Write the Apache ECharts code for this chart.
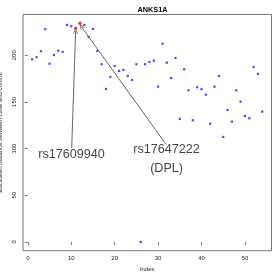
<!DOCTYPE html>
<html><head><meta charset="utf-8">
<script src="https://cdn.jsdelivr.net/npm/echarts@6/dist/echarts.min.js"></script>
<style>html,body{margin:0;padding:0;background:#fff}#c{width:273px;height:273px}</style>
</head><body><div id="c"></div>
<script>
var indices = [];
for (var i = 1; i <= 54; i++) indices.push(i);
var distances = [195.7,197.9,204.3,227.9,191.0,200.3,204.9,203.5,232.5,231.1,
  228.9,234.3,232.5,219.6,228.2,204.6,190.4,163.9,176.8,188.5,
  183.2,184.3,177.8,173.5,190.4,0,190.4,192.8,194.2,166.4,
  212.4,192.1,175.7,197.1,131.8,185.0,162.5,130.4,165.7,163.6,
  157.8,126.7,166.4,177.8,112.5,141.4,128.9,162.5,150.3,135.0,
  132.5,187.5,180.0,139.6];
var highlightIdx = [11, 12];
var xTicks = [0,10,20,30,40,50];
var yTicks = [0,50,100,150,200];
var labelTexts = ['rs17609940', 'rs17647222\n(DPL)'];
var labelX = [10.05, 31.96];
var labelY = [94.2, 88.6];
var arrowFromX = [10.1, 31.8];
var arrowFromY = [100.7, 104.7];
var arrowToX = [11.0, 12.3];
var arrowToY = [226.0, 230.8];

var blueData = [], redData = [];
for (var k = 0; k < indices.length; k++) {
  var p = [indices[k], distances[k]];
  if (highlightIdx.indexOf(indices[k]) >= 0) redData.push(p); else blueData.push(p);
}
var xr = [Math.min.apply(null, indices), Math.max.apply(null, indices)];
var yr = [Math.min.apply(null, distances), Math.max.apply(null, distances)];
var xpad = (xr[1]-xr[0])*0.04, ypad = (yr[1]-yr[0])*0.04;

var arrowData = [];
for (var a = 0; a < arrowFromX.length; a++) {
  arrowData.push([{coord:[arrowFromX[a], arrowFromY[a]]},{coord:[arrowToX[a], arrowToY[a]]}]);
}
var annData = [];
for (var t = 0; t < labelTexts.length; t++) annData.push([labelX[t], labelY[t], labelTexts[t]]);

var FONT = 'Liberation Sans, Arial, sans-serif';
var chart = echarts.init(document.getElementById('c'), null, {renderer:'canvas'});
chart.setOption({
  animation: false,
  backgroundColor: '#fff',
  title: {text:'ANKS1A', left: 132.5, top: 1, textStyle:{fontFamily:FONT, fontSize:7.3, fontWeight:'bold', color:'#000'}},
  grid: {left: 23, top: 14.5, width: 248.5, height: 236.2, show: true, borderColor: '#777', borderWidth: 1, backgroundColor:'transparent', containLabel:false, outerBoundsMode:'none'},
  xAxis: {type:'value', min: xr[0]-xpad, max: xr[1]+xpad,
    name:'Index', nameLocation:'middle', nameGap: 14,
    nameTextStyle:{fontFamily:FONT, fontSize:6, color:'#222'},
    axisLine:{show:false}, splitLine:{show:false},
    axisTick:{show:true, customValues:xTicks, length:3, lineStyle:{color:'#777'}},
    axisLabel:{customValues:xTicks, fontFamily:FONT, fontSize:6, color:'#222', margin:4.5}
  },
  yAxis: {type:'value', min: yr[0]-ypad, max: yr[1]+ypad,
    name:'Euclidean distance between case and control', nameLocation:'middle', nameGap: 12.5,
    nameTextStyle:{fontFamily:FONT, fontSize:6, color:'#222'},
    axisLine:{show:false}, splitLine:{show:false},
    axisTick:{show:true, customValues:yTicks, length:3, lineStyle:{color:'#777'}},
    axisLabel:{customValues:yTicks, rotate:90, fontFamily:FONT, fontSize:6, color:'#222', margin:6}
  },
  series: [
    {type:'scatter', data: blueData, symbol:'rect', symbolSize:2.2, itemStyle:{color:'#1a1aff'}, clip:false,
     markLine:{silent:true, symbol:['none','path://M0,10 L5,0 L10,10 L8.6,10 L5,2.8 L1.4,10 Z'], symbolSize:[5,6],
       label:{show:false}, lineStyle:{color:'#666', width:1, type:'solid'}, data: arrowData}},
    {type:'scatter', data: redData, symbol:'circle', symbolSize:3.4, itemStyle:{color:'#ff0000'}, clip:false},
    {type:'scatter', data: annData, symbol:'circle', symbolSize:1, itemStyle:{color:'transparent'},
     label:{show:true, position:'inside', formatter:function(p){return p.data[2];}, fontFamily:FONT, fontSize:12.6, lineHeight:18.5, color:'#111', align:'center'}}
  ]
});
</script></body></html>
